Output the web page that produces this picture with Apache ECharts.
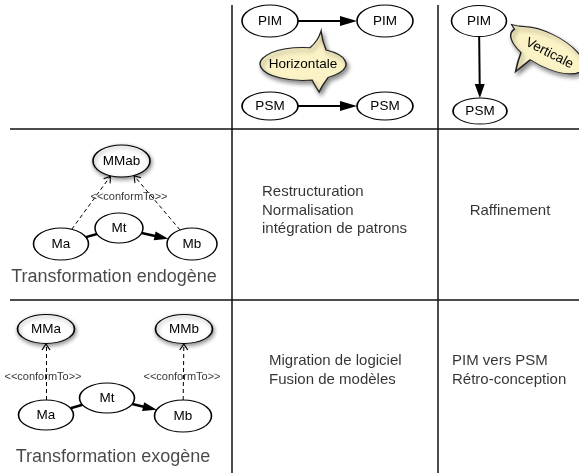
<!DOCTYPE html>
<html><head><meta charset="utf-8">
<script src="https://cdn.jsdelivr.net/npm/echarts@6/dist/echarts.min.js"></script>
<style>html,body{margin:0;padding:0;background:#fff}#c{width:579px;height:473px}</style>
</head><body><div id="c"></div>
<script>
// ---- diagram data ----
const nodeIds    = ['pim1','pim2','psm1','psm2','pim3','psm3','mmab','ma1','mt1','mb1','mma','mmb','ma2','mt2','mb2'];
const nodeLabels = ['PIM','PIM','PSM','PSM','PIM','PSM','MMab','Ma','Mt','Mb','MMa','MMb','Ma','Mt','Mb'];
const nodeX      = [270,385,270,385,479,480,121.5,61,119,192,46,184,46,107,183];
const nodeY      = [21,21,106,106,21,111,161,244,228,244,329,329,415,398,416];
const nodeW      = [56,56,56,56,55,54,57,55,48,50,57,57,55,55,57];
const nodeH      = [32,32,28,28,31,26,32,32,30,32,29,29,30,30,32];
const shadowNodes = ['mmab','mma','mmb'];

const arrowEdges  = [['pim1','pim2'],['psm1','psm2'],['pim3','psm3'],['mt1','mb1'],['mt2','mb2']];
const headLen     = [17,17,14,14,14];
const headWid     = [10,10,10,9,9];
const shaftWid    = [2,2,2,2.5,2.5];
const linkEdges   = [['ma1','mt1'],['ma2','mt2']];
const conformEdges= [['ma1','mmab'],['mb1','mmab'],['ma2','mma'],['mb2','mmb']];

const tableVX = [232,438];
const tableHY = [129,300];

const conformX = [129,43,182];
const conformY = [197,377,377];
const conformText = '<<conformTo>>';

const titleTexts = ['Transformation endogène','Transformation exogène'];
const titleX = [114,113];
const titleY = [277,457];

const cellTexts = ['Restructuration\nNormalisation\nintégration de patrons','Raffinement','Migration de logiciel\nFusion de modèles','PIM vers PSM\nRétro-conception'];
const cellX = [262,510,269,452];
const cellY = [210.5,211,370.5,370.5];
const cellAlign = ['left','center','left','left'];

const bubbleTexts = ['Horizontale','Verticale'];
const bubbleX = [303,542];
const bubbleY = [61.5,57];

// ---- helpers ----
const FONT = "'Liberation Sans', Arial, Helvetica, sans-serif";
const byId = {};
nodeIds.forEach((id,i)=>{byId[id]={x:nodeX[i],y:nodeY[i],w:nodeW[i],h:nodeH[i]};});
function border(a,b){
  const dx=b.x-a.x, dy=b.y-a.y, rx=a.w/2, ry=a.h/2;
  const t=1/Math.sqrt((dx/rx)*(dx/rx)+(dy/ry)*(dy/ry));
  return [a.x+dx*t, a.y+dy*t];
}
function unit(p,q){const dx=q[0]-p[0],dy=q[1]-p[1],L=Math.hypot(dx,dy);return [dx/L,dy/L];}
function rot(u){return Math.atan2(-u[0],-u[1])*180/Math.PI;}

const arrowLines=[], heads=[];
arrowEdges.forEach((e,i)=>{
  const A=byId[e[0]],B=byId[e[1]];
  const p=border(A,B), q=border(B,A), u=unit(p,q), L=headLen[i];
  arrowLines.push({coords:[p,[q[0]-u[0]*L*0.8,q[1]-u[1]*L*0.8]],lineStyle:{width:shaftWid[i]}});
  heads.push({value:[q[0]-u[0]*L/2,q[1]-u[1]*L/2],symbolSize:[headWid[i],L],symbolRotate:rot(u)});
});
const linkLines = linkEdges.map(e=>{const A=byId[e[0]],B=byId[e[1]];return {coords:[border(A,B),border(B,A)]};});
const dashLines=[], chevrons=[];
conformEdges.forEach(e=>{
  const A=byId[e[0]],B=byId[e[1]];
  const p=border(A,B), q=border(B,A), u=unit(p,q);
  dashLines.push({coords:[p,q]});
  chevrons.push({value:[q[0]-u[0]*3.5,q[1]-u[1]*3.5],symbolRotate:rot(u)});
});
const tableLines = tableVX.map(x=>({coords:[[x,5],[x,473]]})).concat(tableHY.map(y=>({coords:[[10,y],[579,y]]})));

const HORIZ_PATH='path://M50,16.7 Q58,10 61,0 Q62,10 66,19.1 A43,16.5 0 0,1 68,46.4 Q62,54 59,61 Q55,55 52,49.1 A43,16.5 0 1,1 50,16.7 Z';
const VERT_PATH='path://M14,18.5 A42,17 0 1,1 34,46.4 Q30,55 26,64 Q23,54 22,44.2 A42,17 0 0,1 5,26 L0,23 L8,21 Q11,19.5 14,18.5 Z';

const textStyle = {show:true,position:'inside',color:'#000',fontFamily:FONT};
const hidden = {color:'rgba(0,0,0,0)'};

const chart = echarts.init(document.getElementById('c'),null,{renderer:'canvas'});
chart.setOption({
  animation:false,
  backgroundColor:'#fff',
  grid:{left:0,right:0,top:0,bottom:0,containLabel:false},
  xAxis:{type:'value',min:0,max:579,show:false},
  yAxis:{type:'value',min:0,max:473,inverse:true,show:false},
  series:[
    {type:'lines',coordinateSystem:'cartesian2d',z:1,silent:true,
     lineStyle:{color:'#111',width:1.5,opacity:1},data:tableLines},
    {type:'lines',coordinateSystem:'cartesian2d',z:2,silent:true,
     lineStyle:{color:'#000',width:2,opacity:1},data:arrowLines},
    {type:'lines',coordinateSystem:'cartesian2d',z:2,silent:true,
     lineStyle:{color:'#000',width:2.5,opacity:1},data:linkLines},
    {type:'lines',coordinateSystem:'cartesian2d',z:2,silent:true,
     lineStyle:{color:'#000',width:1,opacity:1,type:[4,3]},data:dashLines},
    {type:'scatter',z:3,silent:true,symbol:'circle',
     itemStyle:{color:'#fff',borderColor:'#000',borderWidth:1.2,opacity:1},
     label:Object.assign({},textStyle,{formatter:'{b}',fontSize:13.5}),
     data:nodeIds.map((id,i)=>({name:nodeLabels[i],value:[nodeX[i],nodeY[i]],symbolSize:[nodeW[i],nodeH[i]],
       itemStyle:shadowNodes.indexOf(id)>=0?{shadowBlur:4,shadowColor:'rgba(0,0,0,0.45)',shadowOffsetX:1,shadowOffsetY:2}:{}}))},
    {type:'scatter',z:4,silent:true,symbol:'path://M5,0 L10,17 L0,17 Z',
     itemStyle:{color:'#000',opacity:1},data:heads},
    {type:'scatter',z:4,silent:true,symbol:'path://M0,6 L4,0 L8,6',symbolSize:[8,6],
     itemStyle:{color:'rgba(0,0,0,0)',borderColor:'#000',borderWidth:1,opacity:1},data:chevrons},
    {type:'scatter',z:5,silent:true,
     itemStyle:{color:'#fbf3c6',borderColor:'#222',borderWidth:1.2,opacity:1,shadowBlur:4,shadowColor:'rgba(0,0,0,0.45)',shadowOffsetX:2,shadowOffsetY:3},
     label:Object.assign({},textStyle,{formatter:'{b}',fontSize:13.5}),
     data:[
       {name:bubbleTexts[0],value:[bubbleX[0],bubbleY[0]],symbol:HORIZ_PATH,symbolSize:[86,61],label:{offset:[0,2.5]}},
       {name:bubbleTexts[1],value:[bubbleX[1],bubbleY[1]],symbol:VERT_PATH,symbolSize:[84,50],symbolRotate:-27,label:{offset:[5,-6.5],rotate:-27}}
     ]},
    {type:'scatter',z:6,silent:true,symbolSize:1,itemStyle:hidden,
     label:Object.assign({},textStyle,{formatter:'{b}',fontSize:11}),
     data:conformX.map((x,i)=>({name:conformText,value:[x,conformY[i]]}))},
    {type:'scatter',z:6,silent:true,symbolSize:1,itemStyle:hidden,
     label:Object.assign({},textStyle,{formatter:'{b}',fontSize:18,color:'#1a1a1a'}),
     data:titleTexts.map((t,i)=>({name:t,value:[titleX[i],titleY[i]]}))},
    {type:'scatter',z:6,silent:true,symbolSize:1,itemStyle:hidden,
     label:Object.assign({},textStyle,{formatter:'{b}',fontSize:15,lineHeight:18.5,verticalAlign:'middle'}),
     data:cellTexts.map((t,i)=>({name:t,value:[cellX[i],cellY[i]],label:{align:cellAlign[i]}}))}
  ]
});
</script></body></html>
